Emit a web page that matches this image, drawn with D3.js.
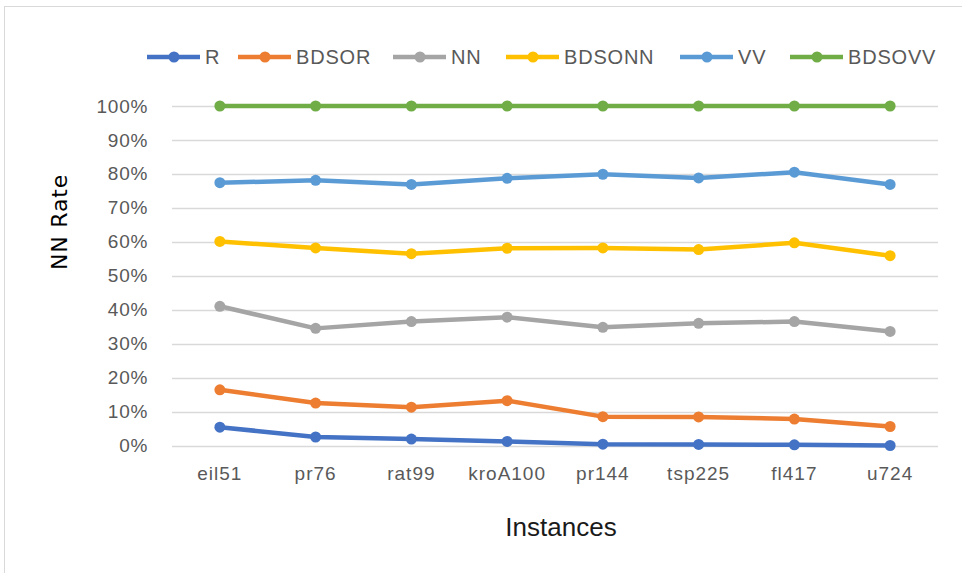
<!DOCTYPE html>
<html><head><meta charset="utf-8">
<script src="https://cdn.jsdelivr.net/npm/d3@7"></script>
<style>body{margin:0;background:#fff}svg{display:block}</style>
</head><body><svg id="c" width="962" height="573"></svg>
<script>
const categories = ["eil51","pr76","rat99","kroA100","pr144","tsp225","fl417","u724"];
const seriesNames = ["R","BDSOR","NN","BDSONN","VV","BDSOVV"];
const R      = [5.4, 2.5, 1.9, 1.2, 0.4, 0.3, 0.2, 0.0];
const BDSOR  = [16.4, 12.5, 11.3, 13.2, 8.5, 8.4, 7.8, 5.6];
const NN     = [41.0, 34.5, 36.5, 37.8, 34.8, 36.0, 36.5, 33.6];
const BDSONN = [60.1, 58.2, 56.5, 58.1, 58.2, 57.7, 59.7, 55.9];
const VV     = [77.4, 78.1, 76.9, 78.7, 79.9, 78.8, 80.5, 76.9];
const BDSOVV = [100, 100, 100, 100, 100, 100, 100, 100];
const yTicks = [0,10,20,30,40,50,60,70,80,90,100];
const colors = ["#4472C4","#ED7D31","#A5A5A5","#FFC000","#5B9BD5","#70AD47"];

const seriesValues = [R, BDSOR, NN, BDSONN, VV, BDSOVV];
const svg = d3.select("#c");
const font = "'Liberation Sans',Arial,sans-serif";

svg.append("rect").attr("x",4.5).attr("y",6.5).attr("width",970).attr("height",600)
  .attr("fill","#fff").attr("stroke","#d9d9d9").attr("stroke-width",1);

const pL = 172, pR = 938, pT = 106, pB = 445.5;
const x = d3.scaleBand().domain(categories).range([pL,pR]);
const y = d3.scaleLinear().domain([0,100]).range([pB, pT]);

// grid
svg.append("g").selectAll("line").data(yTicks).join("line")
  .attr("x1",pL).attr("x2",pR)
  .attr("y1",d=>Math.round(y(d))+0.5).attr("y2",d=>Math.round(y(d))+0.5)
  .attr("stroke","#d9d9d9").attr("stroke-width",1.3);

// y axis labels
const yAxis = d3.axisLeft(y).tickValues(yTicks).tickFormat(d=>d+"%").tickSize(0).tickPadding(0);
const gy = svg.append("g").attr("transform",`translate(${pL-24},0)`).call(yAxis);
gy.select(".domain").remove();
gy.selectAll("text").attr("fill","#595959").style("font-family",font)
  .style("font-size","19px").style("letter-spacing","0.7px");

// x axis labels
const xAxis = d3.axisBottom(x).tickSize(0).tickPadding(0);
const gx = svg.append("g").attr("transform",`translate(0,${pB+21})`).call(xAxis);
gx.select(".domain").remove();
gx.selectAll("text").attr("fill","#595959").style("font-family",font)
  .style("font-size","19px").style("letter-spacing","1px");

// lines
const line = d3.line().x((d,i)=>x(categories[i])+x.bandwidth()/2).y(d=>y(d));
seriesValues.forEach((vals,s)=>{
  svg.append("path").datum(vals).attr("d",line).attr("fill","none")
    .attr("stroke",colors[s]).attr("stroke-width",4.5).attr("stroke-linejoin","round");
  svg.append("g").selectAll("circle").data(vals).join("circle")
    .attr("cx",(d,i)=>x(categories[i])+x.bandwidth()/2).attr("cy",d=>y(d))
    .attr("r",5.5).attr("fill",colors[s]);
});

// legend
const legX = [147, 238, 393, 506, 680, 790];
seriesNames.forEach((n,i)=>{
  const g = svg.append("g").attr("transform",`translate(${legX[i]},57)`);
  g.append("line").attr("x1",0).attr("x2",53).attr("y1",0).attr("y2",0)
    .attr("stroke",colors[i]).attr("stroke-width",4.5);
  g.append("circle").attr("cx",27).attr("cy",0).attr("r",5.5).attr("fill",colors[i]);
  g.append("text").attr("x",58).attr("y",0).attr("dy","0.35em")
    .attr("fill","#595959").style("font-family",font).style("font-size","20px")
    .style("letter-spacing","0.8px").text(n);
});

// axis titles
svg.append("text").attr("transform","translate(67,222) rotate(-90)")
  .attr("text-anchor","middle").attr("fill","#000")
  .style("font-family","'DejaVu Sans',sans-serif").style("font-size","22px")
  .style("letter-spacing","0.8px").text("NN Rate");
svg.append("text").attr("x",561).attr("y",536).attr("text-anchor","middle").attr("fill","#1a1a1a")
  .style("font-family",font).style("font-size","26px").text("Instances");
</script></body></html>
